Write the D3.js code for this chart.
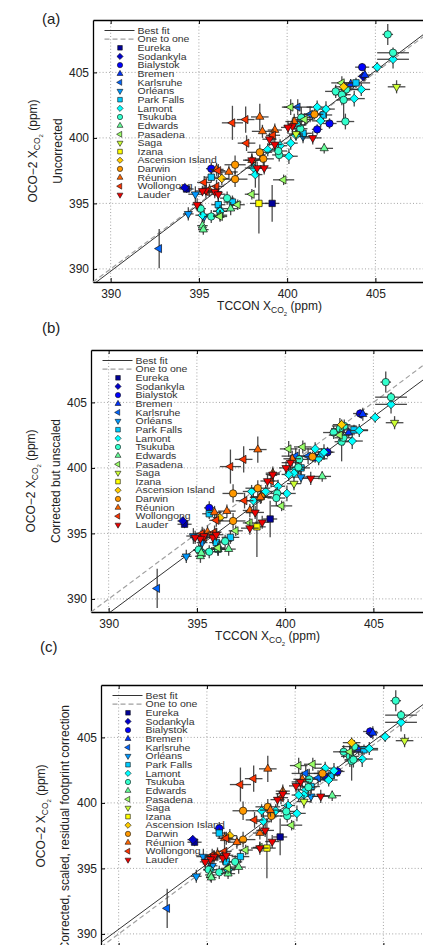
<!DOCTYPE html>
<html>
<head>
<meta charset="utf-8">
<script src="https://cdn.jsdelivr.net/npm/d3@7.9.0/dist/d3.min.js"></script>
<style>
  body { margin: 0; background: #fff; }
  svg { display: block; font-family: "Liberation Sans", Arial, sans-serif; }
</style>
</head>
<body>
<svg id="chart" width="423" height="945"></svg>
<script>
// ---- data: one row per co-location
// [tccon, tcconErr, oco2 uncorrected, oco2 corrected-unscaled, oco2 corrected-scaled, oco2Err]
const eureka = [
  [394.3, 0.4, 396.1, 395.7, 397.0, 0.3],
  [399.15, 0.4, 395.0, 396.1, 397.4, 1.4]
];
const sodankyla = [
  [394.2, 0.3, 396.2, 395.95, 397.2, 0.3],
  [404.3, 0.3, 404.7, 404.1, 405.3, 0.3]
];
const bialystok = [
  [404.25, 0.4, 405.4, 404.15, 405.45, 0.3],
  [395.7, 0.3, 397.65, 396.95, 398.05, 0.5],
  [401.7, 0.3, 400.65, 400.8, 402.0, 0.4],
  [402.4, 0.4, 401.1, 401.2, 402.4, 0.4]
];
const bremen = [
  [404.4, 0.3, 404.8, 404.1, 405.35, 0.5],
  [403.6, 0.5, 404.1, 402.7, 404.05, 0.4]
];
const karlsruhe = [
  [392.75, 0.1, 391.55, 390.8, 391.95, 1.5],
  [400.6, 0.8, 402.35, 400.9, 402.25, 0.6],
  [401.3, 0.6, 401.8, 400.9, 401.9, 0.6]
];
const orleans = [
  [394.8, 0.4, 395.7, 394.8, 395.9, 0.6],
  [394.4, 0.3, 394.2, 393.25, 394.4, 0.5],
  [395.3, 0.3, 394.0, 394.3, 395.2, 0.5],
  [400.9, 0.5, 400.1, 399.3, 400.5, 0.5]
];
const parkFalls = [
  [403.9, 0.8, 404.2, 402.9, 404.05, 0.4],
  [402.05, 0.5, 401.75, 401.0, 402.1, 0.5],
  [400.9, 0.5, 400.35, 400.0, 401.25, 0.5],
  [395.7, 0.4, 397.0, 396.5, 397.7, 0.4],
  [396.1, 0.4, 394.9, 394.3, 395.5, 0.5],
  [396.9, 0.5, 395.1, 394.7, 395.9, 0.5],
  [396.2, 0.4, 394.4, 393.8, 394.9, 0.5]
];
const lamont = [
  [406.0, 0.9, 406.0, 404.85, 406.15, 0.7],
  [405.1, 0.3, 405.4, 403.85, 405.05, 0.4],
  [404.2, 0.5, 403.7, 402.85, 404.15, 0.5],
  [403.8, 0.6, 403.0, 402.05, 403.35, 0.6],
  [401.7, 0.6, 402.35, 401.45, 402.65, 0.5],
  [402.2, 0.5, 402.2, 401.2, 402.45, 0.6],
  [401.9, 0.5, 401.3, 400.7, 401.75, 0.5],
  [400.6, 0.5, 401.0, 399.9, 401.0, 0.5],
  [400.5, 0.4, 400.2, 399.6, 400.6, 0.4],
  [400.2, 0.4, 399.6, 399.5, 400.6, 0.5],
  [400.1, 0.5, 398.6, 398.05, 399.2, 0.6],
  [398.9, 0.4, 399.1, 398.2, 399.4, 0.5],
  [398.1, 0.5, 397.7, 398.2, 399.4, 0.5],
  [398.2, 0.4, 397.2, 397.5, 398.6, 1.0],
  [395.2, 0.4, 394.1, 393.7, 394.9, 0.5],
  [396.2, 0.4, 394.4, 393.8, 394.9, 0.5],
  [399.6, 0.4, 399.4, 398.6, 399.8, 0.5]
];
const tsukuba = [
  [405.7, 0.3, 407.9, 406.55, 407.8, 0.8],
  [406.0, 0.9, 406.5, 405.4, 406.7, 0.4],
  [402.75, 0.6, 403.55, 402.7, 403.9, 0.5],
  [403.35, 0.7, 403.7, 403.2, 404.3, 0.5],
  [403.1, 0.5, 403.3, 403.0, 403.55, 0.8],
  [403.2, 0.4, 402.9, 402.0, 403.2, 1.5],
  [403.3, 0.5, 401.25, 402.3, 403.3, 0.6],
  [400.8, 0.5, 401.55, 400.65, 401.8, 0.8],
  [400.75, 0.4, 400.7, 400.05, 401.2, 0.5],
  [399.55, 0.4, 398.7, 398.05, 399.0, 0.5],
  [399.5, 0.5, 399.0, 397.7, 399.35, 0.6],
  [395.1, 0.3, 394.6, 393.75, 394.9, 0.5],
  [395.7, 0.4, 394.0, 393.6, 394.7, 0.5],
  [396.6, 0.4, 395.4, 394.4, 395.5, 0.5]
];
const edwards = [
  [402.1, 0.5, 399.2, 399.35, 400.55, 0.4],
  [395.2, 0.3, 393.3, 393.25, 394.5, 0.5],
  [395.25, 0.3, 393.0, 393.5, 394.3, 0.4],
  [396.8, 0.4, 394.6, 393.8, 395.1, 0.5],
  [396.2, 0.4, 394.1, 393.8, 394.6, 0.4]
];
const pasadena = [
  [403.1, 0.6, 404.2, 402.5, 403.9, 0.5],
  [400.2, 0.5, 402.35, 401.45, 402.85, 0.6],
  [401.0, 0.5, 401.4, 401.6, 402.95, 0.5],
  [399.8, 0.6, 396.8, 397.1, 398.3, 0.4],
  [398.0, 0.4, 395.7, 395.8, 396.6, 0.4],
  [397.2, 0.4, 394.9, 395.2, 396.4, 0.4],
  [396.2, 0.4, 394.0, 393.9, 395.0, 0.4]
];
const saga = [
  [406.2, 0.5, 403.9, 403.45, 404.75, 0.5],
  [400.5, 0.4, 400.3, 398.8, 400.1, 0.5]
];
const izana = [
  [398.4, 0.5, 395.0, 395.5, 396.55, 2.3]
];
const ascension = [
  [403.2, 0.5, 403.9, 403.3, 404.6, 0.4],
  [396.3, 0.4, 396.9, 396.2, 397.5, 0.5]
];
const darwin = [
  [401.55, 0.5, 401.8, 400.85, 402.25, 0.4],
  [398.45, 0.7, 398.9, 398.45, 399.7, 0.6],
  [398.65, 0.6, 398.4, 397.8, 399.0, 0.5],
  [397.05, 0.6, 397.95, 398.05, 399.4, 0.7],
  [397.05, 0.7, 396.85, 395.95, 397.2, 0.6]
];
const reunion = [
  [398.45, 0.5, 401.6, 401.4, 402.6, 1.0],
  [398.6, 0.6, 400.5, 397.75, 399.45, 0.5],
  [396.7, 0.5, 397.4, 396.7, 397.0, 0.5],
  [396.0, 0.4, 397.6, 396.6, 397.3, 0.5],
  [395.6, 0.4, 396.0, 395.1, 396.1, 0.5],
  [399.3, 0.4, 400.6, 399.6, 400.9, 0.5],
  [400.4, 0.5, 401.25, 400.7, 401.8, 0.6],
  [398.0, 0.4, 398.3, 396.75, 397.7, 0.5]
];
const wollongong = [
  [397.65, 0.5, 401.4, 400.65, 401.85, 1.0],
  [396.9, 0.6, 401.15, 400.1, 401.4, 1.3],
  [397.7, 0.5, 399.6, 397.5, 398.7, 0.6],
  [396.1, 0.4, 397.5, 396.0, 397.3, 0.5],
  [395.4, 0.4, 395.9, 394.7, 395.9, 0.5],
  [396.0, 0.4, 396.3, 395.1, 396.3, 0.5],
  [395.3, 0.4, 396.6, 395.0, 396.0, 0.5],
  [399.2, 0.4, 400.2, 399.0, 400.4, 0.5]
];
const lauder = [
  [401.45, 0.5, 400.0, 399.2, 400.5, 0.5],
  [399.0, 0.4, 399.9, 399.0, 400.25, 0.5],
  [398.0, 0.5, 398.3, 395.4, 396.55, 0.5],
  [398.7, 0.4, 397.7, 395.85, 397.05, 0.5],
  [395.4, 0.4, 396.0, 394.8, 395.9, 0.4],
  [395.9, 0.4, 395.9, 394.7, 395.8, 0.5],
  [396.1, 0.4, 395.7, 394.9, 396.0, 0.5],
  [395.2, 0.4, 395.95, 394.6, 395.7, 0.4],
  [394.9, 0.3, 394.9, 394.7, 395.5, 0.5],
  [398.3, 0.5, 397.7, 396.6, 397.9, 0.5],
  [399.3, 0.4, 399.5, 399.5, 400.7, 0.5],
  [400.3, 0.5, 400.9, 400.4, 401.6, 0.6],
  [400.05, 0.4, 400.8, 400.0, 401.3, 0.5]
];

const stationNames = ["Eureka", "Sodankyla", "Bialystok", "Bremen", "Karlsruhe", "Orléans",
  "Park Falls", "Lamont", "Tsukuba", "Edwards", "Pasadena", "Saga", "Izana",
  "Ascension Island", "Darwin", "Réunion", "Wollongong", "Lauder"];
const stationRows = [eureka, sodankyla, bialystok, bremen, karlsruhe, orleans, parkFalls,
  lamont, tsukuba, edwards, pasadena, saga, izana, ascension, darwin, reunion, wollongong, lauder];
// jet(18)
const stationColors = ["#000099", "#0000cc", "#0000ff", "#0033ff", "#0066ff", "#0099ff",
  "#00ccff", "#00ffff", "#33ffcc", "#66ff99", "#99ff66", "#ccff33", "#ffff00",
  "#ffcc00", "#ff9900", "#ff6600", "#ff3300", "#ee0000"];
const shapeCycle = ["square", "diamond", "circle", "up", "left", "down"];

const axisDomain = [389, 409];
const tickValues = [390, 395, 400, 405];
const fitSlope = [1.02, 1.0, 0.995];
const fitIntercept = [-7.98, -1.1, 2.3];
const panelTags = ["(a)", "(b)", "(c)"];
const panelSubtitles = ["Uncorrected", "Corrected but unscaled", "Corrected, scaled, residual footprint correction"];

// ---- layout
const panels = [
  { left: 93, top: 20, tagX: 42, tagY: 24, showX: true },
  { left: 91, top: 350, tagX: 42, tagY: 333, showX: true },
  { left: 101, top: 685, tagX: 40, tagY: 652, showX: false }
];
const plotW = 353, plotH = 262;
const ink = "#222";

const svg = d3.select("#chart");

function markerPath(shape, k) {
  const p = d3.path();
  if (shape === "circle") {
    const r = 3.7 * k;
    p.arc(0, 0, r, 0, 2 * Math.PI);
  } else if (shape === "square") {
    const s = 3.2 * k;
    p.rect(-s, -s, 2 * s, 2 * s);
  } else if (shape === "diamond") {
    const r = 4.3 * k;
    p.moveTo(0, -r); p.lineTo(r, 0); p.lineTo(0, r); p.lineTo(-r, 0); p.closePath();
  } else {
    const r = 4.7 * k;
    const pts = [[0, -r], [r * 0.87, r * 0.5], [-r * 0.87, r * 0.5]];
    const rot = { up: 0, down: Math.PI, left: -Math.PI / 2 }[shape];
    pts.forEach(([a, b], i) => {
      const xx = a * Math.cos(rot) - b * Math.sin(rot);
      const yy = a * Math.sin(rot) + b * Math.cos(rot);
      if (i === 0) p.moveTo(xx, yy); else p.lineTo(xx, yy);
    });
    p.closePath();
  }
  return p.toString();
}

function subscriptLabel(sel, before, after) {
  sel.append("tspan").text(before);
  sel.append("tspan").attr("dy", 3).attr("font-size", 8.5).text("CO");
  sel.append("tspan").attr("dy", 2.5).attr("font-size", 6).text("2");
  sel.append("tspan").attr("dy", -5.5).text(after);
}

panels.forEach((p, pi) => {
  const bottom = p.top + plotH;
  const x = d3.scaleLinear().domain(axisDomain).range([p.left, p.left + plotW]);
  const y = d3.scaleLinear().domain(axisDomain).range([bottom, p.top]);
  const g = svg.append("g");

  g.append("clipPath").attr("id", "clip" + pi)
    .append("rect").attr("x", p.left).attr("y", p.top).attr("width", plotW).attr("height", plotH);

  // grid
  const grid = g.append("g").attr("stroke", "#9a9a9a").attr("stroke-width", 0.9)
    .attr("stroke-dasharray", "1,2.2");
  grid.selectAll(".gx").data(tickValues).join("line")
    .attr("x1", d => x(d)).attr("x2", d => x(d)).attr("y1", p.top).attr("y2", bottom);
  grid.selectAll(".gy").data(tickValues).join("line")
    .attr("y1", d => y(d)).attr("y2", d => y(d)).attr("x1", p.left).attr("x2", p.left + plotW);

  // axes (panel c's bottom axis lies below the picture)
  const xAxis = g.append("g").attr("transform", `translate(0,${bottom})`)
    .call(d3.axisBottom(x).tickValues(tickValues).tickSize(-4).tickPadding(7.5).tickSizeOuter(0)
      .tickFormat(p.showX ? d3.format("d") : ""));
  const yAxis = g.append("g").attr("transform", `translate(${p.left},0)`)
    .call(d3.axisLeft(y).tickValues(tickValues).tickSize(-4).tickPadding(4).tickSizeOuter(0));
  g.append("g").attr("transform", `translate(0,${p.top})`)
    .call(d3.axisTop(x).tickValues(tickValues).tickSize(-4).tickFormat("").tickSizeOuter(0));
  [xAxis, yAxis].forEach(a => {
    a.selectAll("text").attr("font-size", 12).attr("fill", ink).attr("font-family", null);
    a.selectAll("line").attr("stroke", "#000");
  });
  if (!p.showX) xAxis.selectAll("text").remove();
  g.selectAll(".domain").attr("stroke", "#000").attr("stroke-width", 1.3);

  // axis titles
  if (p.showX) {
    subscriptLabel(
      g.append("text").attr("x", p.left + plotW / 2).attr("y", bottom + 28)
        .attr("text-anchor", "middle").attr("font-size", 12).attr("fill", ink),
      "TCCON X", " (ppm)");
  }
  const cy = p.top + plotH / 2;
  subscriptLabel(
    g.append("text").attr("transform", `translate(${p.left - 56},${cy}) rotate(-90)`)
      .attr("text-anchor", "middle").attr("font-size", 12).attr("fill", ink),
    "OCO\u22122 X", " (ppm)");
  const sub = g.append("text").attr("font-size", 12).attr("fill", ink).text(panelSubtitles[pi]);
  if (pi === 2) {
    sub.attr("transform", `translate(${p.left - 32},705) rotate(-90)`).attr("text-anchor", "end");
  } else {
    sub.attr("transform", `translate(${p.left - 31.5},${cy}) rotate(-90)`).attr("text-anchor", "middle");
  }
  g.append("text").attr("x", p.tagX).attr("y", p.tagY).attr("font-size", 15).attr("fill", ink)
    .text(panelTags[pi]);

  // legend (transparent, under the data)
  const lg = g.append("g");
  const rowY = i => p.top + 10.5 + i * 8.65;
  const lx0 = p.left + 11.5, lx1 = p.left + 41.5, mx = p.left + 27, tx = p.left + 44.5;
  const legendText = (i, label) => lg.append("text")
    .attr("transform", `translate(${tx},${rowY(i) + 3.2}) scale(1,0.86)`)
    .attr("font-size", 10.5).attr("fill", "#333").text(label);
  lg.append("line").attr("x1", lx0).attr("x2", lx1).attr("y1", rowY(0)).attr("y2", rowY(0))
    .attr("stroke", "#333").attr("stroke-width", 1);
  legendText(0, "Best fit");
  lg.append("line").attr("x1", lx0).attr("x2", lx1).attr("y1", rowY(1)).attr("y2", rowY(1))
    .attr("stroke", "#a0a0a0").attr("stroke-width", 1.2).attr("stroke-dasharray", "5,3");
  legendText(1, "One to one");
  stationNames.forEach((name, si) => {
    lg.append("path").attr("d", markerPath(shapeCycle[si % 6], 0.72))
      .attr("transform", `translate(${mx},${rowY(si + 2)})`)
      .attr("fill", stationColors[si]).attr("stroke", "#111").attr("stroke-width", 0.6);
    legendText(si + 2, name);
  });

  // lines
  const plot = g.append("g").attr("clip-path", `url(#clip${pi})`);
  plot.append("line")
    .attr("x1", x(axisDomain[0])).attr("y1", y(axisDomain[0])).attr("x2", x(axisDomain[1])).attr("y2", y(axisDomain[1]))
    .attr("stroke", "#a0a0a0").attr("stroke-width", 1.2).attr("stroke-dasharray", "5,3");
  plot.append("line")
    .attr("x1", x(axisDomain[0])).attr("y1", y(fitSlope[pi] * axisDomain[0] + fitIntercept[pi]))
    .attr("x2", x(axisDomain[1])).attr("y2", y(fitSlope[pi] * axisDomain[1] + fitIntercept[pi]))
    .attr("stroke", "#333").attr("stroke-width", 1);

  // data, station by station
  const col = 2 + pi;
  stationRows.forEach((rows, si) => {
    const sg = plot.append("g");
    sg.selectAll(".ex").data(rows).join("line")
      .attr("x1", d => x(d[0] - d[1])).attr("x2", d => x(d[0] + d[1]))
      .attr("y1", d => y(d[col])).attr("y2", d => y(d[col]))
      .attr("stroke", "#2a2a2a").attr("stroke-width", 1.3).attr("stroke-opacity", 0.85);
    sg.selectAll(".ey").data(rows).join("line")
      .attr("x1", d => x(d[0])).attr("x2", d => x(d[0]))
      .attr("y1", d => y(d[col] - d[5])).attr("y2", d => y(d[col] + d[5]))
      .attr("stroke", "#2a2a2a").attr("stroke-width", 1.3).attr("stroke-opacity", 0.85);
    sg.selectAll(".mk").data(rows).join("path")
      .attr("d", markerPath(shapeCycle[si % 6], 1))
      .attr("transform", d => `translate(${x(d[0])},${y(d[col])})`)
      .attr("fill", stationColors[si]).attr("stroke", "#111").attr("stroke-width", 0.7);
  });
});
</script>
</body>
</html>
